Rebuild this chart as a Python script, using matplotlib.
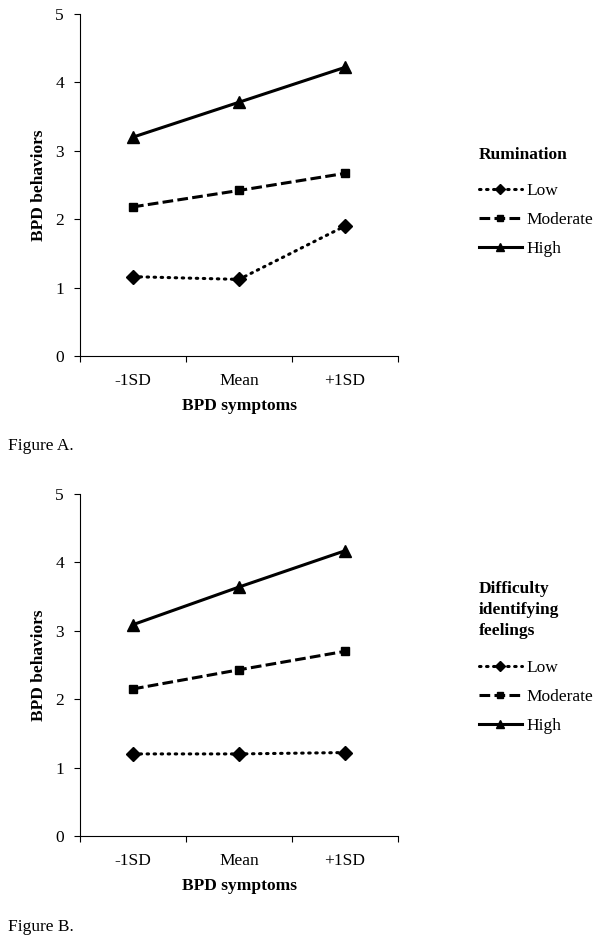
"""Interaction plots: BPD symptoms x moderator -> BPD behaviors."""

import matplotlib.pyplot as plt

plt.rcParams["font.family"] = ["Liberation Serif", "DejaVu Serif"]

categories = ["-1SD", "Mean", "+1SD"]
level_labels = ["Low", "Moderate", "High"]

# Figure A: rumination
rum_low = [1.16, 1.12, 1.90]
rum_moderate = [2.18, 2.42, 2.67]
rum_high = [3.20, 3.71, 4.22]

# Figure B: difficulty identifying feelings
dif_low = [1.20, 1.20, 1.22]
dif_moderate = [2.15, 2.43, 2.70]
dif_high = [3.09, 3.64, 4.17]

y_ticks = [0, 1, 2, 3, 4, 5]

FS = 12.5

styles = [
    dict(linestyle=(0, (0.5, 1.8)), marker="D", markersize=7, dash_capstyle="round"),
    dict(linestyle=(0, (3.5, 1.4)), marker="s", markersize=6),
    dict(linestyle="-", marker="^", markersize=8),
]


def draw_panel(fig, ax, series, legend_title, legend_anchor, title_sep,
               caption, caption_y):
    x = range(len(categories))
    handles = []
    for vals, lab, st in zip(series, level_labels, styles):
        (h,) = ax.plot(x, vals, color="black", linewidth=2.2, label=lab, **st)
        handles.append(h)

    ax.set_xlim(-0.5, len(categories) - 0.5)
    ax.set_ylim(0, 5)
    ax.set_yticks(y_ticks)
    ax.set_xticks(list(x))
    ax.set_xticklabels(categories)
    ax.set_xticks([-0.5, 0.5, 1.5, 2.5], minor=True)
    ax.tick_params(axis="x", which="major", length=0, pad=12, labelsize=FS)
    ax.tick_params(axis="x", which="minor", length=4.5, width=0.8, direction="out")
    ax.tick_params(axis="y", length=4.5, width=0.8, pad=7, labelsize=FS)
    for side in ("top", "right"):
        ax.spines[side].set_visible(False)
    for side in ("left", "bottom"):
        ax.spines[side].set_linewidth(0.8)

    ax.set_xlabel("BPD symptoms", fontweight="bold", fontsize=FS, labelpad=7)
    ax.set_ylabel("BPD behaviors", fontweight="bold", fontsize=FS, labelpad=6)

    leg = fig.legend(
        handles=handles,
        title=legend_title,
        loc="upper left",
        bbox_to_anchor=legend_anchor,
        frameon=False,
        fontsize=FS,
        title_fontproperties={"weight": "bold", "size": FS},
        alignment="left",
        handlelength=2.45,
        handletextpad=0.3,
        labelspacing=0.75,
        markerscale=0.8,
        borderpad=0,
        borderaxespad=0,
    )
    leg.get_title().set_linespacing(1.4)
    leg._legend_box.sep = title_sep

    fig.text(8 / 602, caption_y, caption, fontsize=FS, va="center", ha="left")


fig = plt.figure(figsize=(6.02, 9.40), dpi=100)
fig.patch.set_facecolor("white")

ax_a = fig.add_axes([80 / 602, 1 - 356 / 940, 318 / 602, 342 / 940])
ax_b = fig.add_axes([80 / 602, 1 - 836 / 940, 318 / 602, 342 / 940])

draw_panel(fig, ax_a, [rum_low, rum_moderate, rum_high], "Rumination",
           (479 / 602, 1 - 147 / 940), 14, "Figure A.", 1 - 446 / 940)
draw_panel(fig, ax_b, [dif_low, dif_moderate, dif_high],
           "Difficulty\nidentifying\nfeelings",
           (479 / 602, 1 - 581 / 940), 15, "Figure B.", 1 - 927 / 940)

fig.savefig("out.png", dpi=100, facecolor="white")
